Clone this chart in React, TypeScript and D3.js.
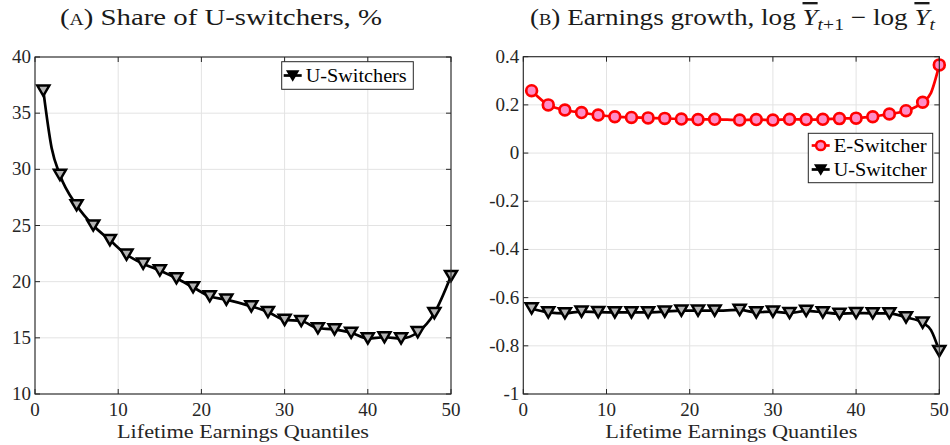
import React from "react";
import * as d3 from "d3";

// ---------- data ----------
const markerQuantiles = [1, 3, 5, 7, 9, 11, 13, 15, 17, 19, 21, 23, 26, 28, 30, 32, 34, 36, 38, 40, 42, 44, 46, 48, 50];

const shareQuantiles = [1, 2, 3, 5, 7, 9, 11, 13, 15, 17, 19, 21, 23, 26, 28, 30, 32, 34, 36, 38, 40, 42, 44, 46, 48, 50];
const shareUSwitchers = [37.0, 31.9, 29.5, 26.8, 25.0, 23.7, 22.4, 21.6, 21.0, 20.3, 19.5, 18.7, 18.4, 17.8, 17.3, 16.6, 16.5, 15.85, 15.75, 15.45, 14.95, 15.05, 14.95, 15.5, 17.2, 20.5];

const growthQuantiles = [1, 3, 5, 7, 9, 11, 13, 15, 17, 19, 21, 23, 26, 28, 30, 32, 34, 36, 38, 40, 42, 44, 46, 48, 49, 50];
const growthESwitcher = [0.259, 0.2, 0.179, 0.168, 0.158, 0.151, 0.148, 0.146, 0.144, 0.141, 0.139, 0.14, 0.137, 0.139, 0.137, 0.14, 0.139, 0.14, 0.143, 0.145, 0.151, 0.162, 0.176, 0.211, 0.25, 0.366];
const growthUSwitcher = [-0.645, -0.661, -0.665, -0.658, -0.66, -0.661, -0.661, -0.661, -0.658, -0.654, -0.654, -0.654, -0.651, -0.661, -0.658, -0.664, -0.655, -0.661, -0.667, -0.664, -0.665, -0.665, -0.682, -0.704, -0.735, -0.822];

const xTicks = [0, 10, 20, 30, 40, 50];
const leftYTicks = [10, 15, 20, 25, 30, 35, 40];
const rightYTicks = [-1, -0.8, -0.6, -0.4, -0.2, 0, 0.2, 0.4];

// ---------- style ----------
const FONT = "'Liberation Serif', 'DejaVu Serif', serif";
const AXIS = "#262626";
const GRID = "#e3e3e3";
const U_FILL = "#b4b4b4";
const E_STROKE = "#ff0000";
const E_FILL = "#ff8cc6";

type Pt = { q: number; v: number };

function tri(cx: number, cy: number, w: number) {
  const h = w * 0.85;
  return `M${cx - w / 2},${cy - h / 2}L${cx + w / 2},${cy - h / 2}L${cx},${cy + h / 2}Z`;
}

function fmt(v: number) {
  const s = d3.format("~g")(+v.toFixed(2));
  return s.replace("−", "-");
}

function Panel(props: {
  left: number; right: number; top: number; bottom: number;
  yDomain: [number, number]; yTicks: number[];
  series: { pts: Pt[]; kind: "U" | "E" }[];
}) {
  const { left, right, top, bottom, yDomain, yTicks, series } = props;
  const x = d3.scaleLinear().domain([0, 50]).range([left, right]);
  const y = d3.scaleLinear().domain(yDomain).range([bottom, top]);
  const line = d3.line<Pt>().x((d) => x(d.q)).y((d) => y(d.v)).curve(d3.curveMonotoneX);
  const tl = 5;
  return (
    <g>
      {xTicks.map((t) => (
        <line key={"gx" + t} x1={x(t)} x2={x(t)} y1={top} y2={bottom} stroke={GRID} strokeWidth={1} />
      ))}
      {yTicks.map((t) => (
        <line key={"gy" + t} x1={left} x2={right} y1={y(t)} y2={y(t)} stroke={GRID} strokeWidth={1} />
      ))}
      {series.map((s, i) => (
        <g key={"s" + i}>
          <path d={line(s.pts) || ""} fill="none" stroke={s.kind === "E" ? E_STROKE : "#000"} strokeWidth={2.7} strokeLinejoin="round" />
          {s.pts.filter((p) => markerQuantiles.includes(p.q)).map((p, j) =>
            s.kind === "E" ? (
              <circle key={j} cx={x(p.q)} cy={y(p.v)} r={5.4} fill={E_FILL} stroke={E_STROKE} strokeWidth={2.7} />
            ) : (
              <path key={j} d={tri(x(p.q), y(p.v), 12)} fill={U_FILL} stroke="#000" strokeWidth={2.5} strokeLinejoin="miter" />
            )
          )}
        </g>
      ))}
      <rect x={left} y={top} width={right - left} height={bottom - top} fill="none" stroke={AXIS} strokeWidth={1.1} />
      {xTicks.map((t) => (
        <g key={"tx" + t}>
          <line x1={x(t)} x2={x(t)} y1={bottom} y2={bottom - tl} stroke={AXIS} />
          <line x1={x(t)} x2={x(t)} y1={top} y2={top + tl} stroke={AXIS} />
          <text x={x(t)} y={bottom + 22} textAnchor="middle" fontFamily={FONT} fontSize={19} fill="#262626">{t}</text>
        </g>
      ))}
      {yTicks.map((t) => (
        <g key={"ty" + t}>
          <line x1={left} x2={left + tl} y1={y(t)} y2={y(t)} stroke={AXIS} />
          <line x1={right} x2={right - tl} y1={y(t)} y2={y(t)} stroke={AXIS} />
          <text x={left - 4} y={y(t) + 6} textAnchor="end" fontFamily={FONT} fontSize={19} fill="#262626">{fmt(t)}</text>
        </g>
      ))}
      <text x={(left + right) / 2} y={438} textAnchor="middle" fontFamily={FONT} fontSize={19.5}
        textLength={252} lengthAdjust="spacingAndGlyphs" fill="#262626">Lifetime Earnings Quantiles</text>
    </g>
  );
}

function LegendEntry(props: { x: number; y: number; kind: "U" | "E"; label: string; width: number }) {
  const { x, y, kind, label, width } = props;
  return (
    <g>
      <line x1={x - 9} x2={x + 9} y1={y} y2={y} stroke={kind === "E" ? E_STROKE : "#000"} strokeWidth={2.7} />
      {kind === "E" ? (
        <circle cx={x} cy={y} r={4.6} fill={E_FILL} stroke={E_STROKE} strokeWidth={2.5} />
      ) : (
        <path d={tri(x, y, 10)} fill="#000" stroke="#000" strokeWidth={2} />
      )}
      <text x={x + 13} y={y + 6.5} fontFamily={FONT} fontSize={19.5} fill="#000"
        textLength={width} lengthAdjust="spacingAndGlyphs">{label}</text>
    </g>
  );
}

export default function App() {
  const leftPts: Pt[] = shareQuantiles.map((q, i) => ({ q, v: shareUSwitchers[i] }));
  const ePts: Pt[] = growthQuantiles.map((q, i) => ({ q, v: growthESwitcher[i] }));
  const uPts: Pt[] = growthQuantiles.map((q, i) => ({ q, v: growthUSwitcher[i] }));
  return (
    <svg width={950} height={445} style={{ position: "absolute", left: 0, top: 0, background: "#fff" }}>
      <rect x={0} y={0} width={950} height={445} fill="#fff" />
      <text x={60} y={25} fontFamily={FONT} fontSize={23.5} fill="#1a1a1a" textLength={322} lengthAdjust="spacingAndGlyphs">
        <tspan style={{ fontVariant: "small-caps" }}>(a)</tspan>
        <tspan> Share of U-switchers, %</tspan>
      </text>
      <text x={530} y={25} fontFamily={FONT} fontSize={23.5} fill="#1a1a1a" textLength={405} lengthAdjust="spacingAndGlyphs">
        <tspan style={{ fontVariant: "small-caps" }}>(b)</tspan>
        <tspan> Earnings growth, log </tspan>
        <tspan fontStyle="italic" style={{ textDecoration: "overline" }}>Y</tspan>
        <tspan fontStyle="italic" fontSize={17} dy={5}>t</tspan>
        <tspan fontSize={17}>+1</tspan>
        <tspan dy={-5}> − log </tspan>
        <tspan fontStyle="italic" style={{ textDecoration: "overline" }}>Y</tspan>
        <tspan fontStyle="italic" fontSize={17} dy={5}>t</tspan>
      </text>

      <Panel left={35} right={451} top={57} bottom={394} yDomain={[10, 40]} yTicks={leftYTicks}
        series={[{ pts: leftPts, kind: "U" }]} />
      <Panel left={523.3} right={939.3} top={56.7} bottom={394} yDomain={[-1, 0.4]} yTicks={rightYTicks}
        series={[{ pts: ePts, kind: "E" }, { pts: uPts, kind: "U" }]} />

      <rect x={281.7} y={61.7} width={131.6} height={27.6} fill="#fff" stroke={AXIS} strokeWidth={1} />
      <LegendEntry x={292.7} y={75.5} kind="U" label="U-Switchers" width={101} />

      <rect x={808.3} y={133.3} width={124.4} height={49.4} fill="#fff" stroke={AXIS} strokeWidth={1} />
      <LegendEntry x={820.7} y={145.5} kind="E" label="E-Switcher" width={93} />
      <LegendEntry x={820.7} y={169.5} kind="U" label="U-Switcher" width={93} />
    </svg>
  );
}
